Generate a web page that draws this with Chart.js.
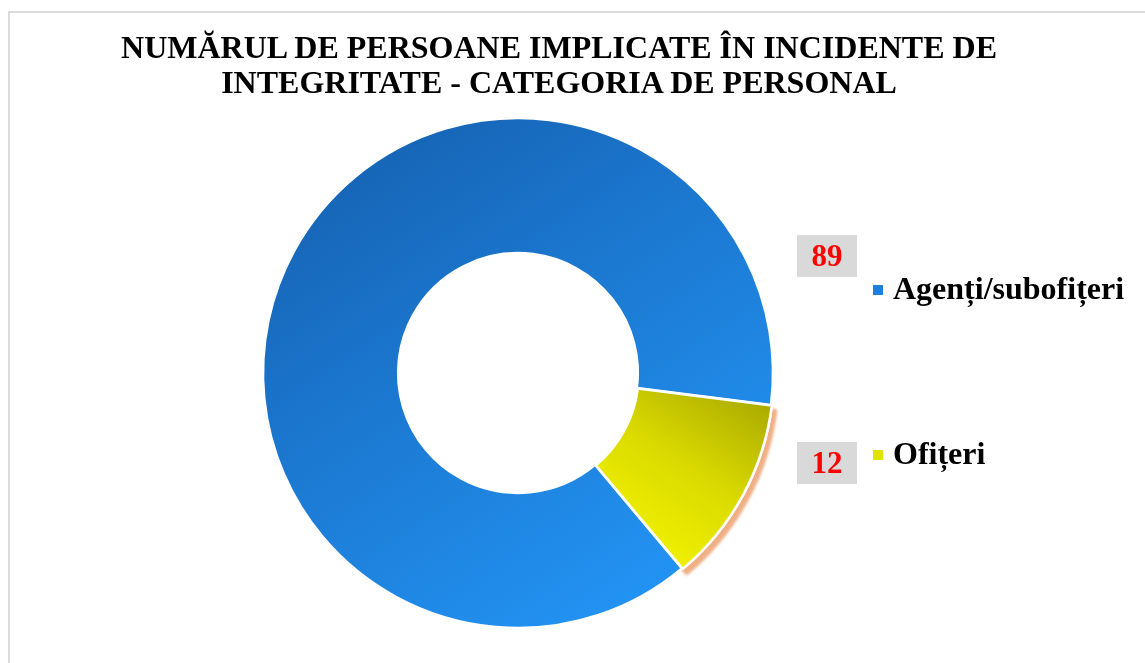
<!DOCTYPE html>
<html>
<head>
<meta charset="utf-8">
<script src="https://cdn.jsdelivr.net/npm/chart.js@4.4.1/dist/chart.umd.min.js"></script>
<style>
  html, body { margin: 0; padding: 0; background: #fff; overflow: hidden; }
  #frame {
    position: absolute; left: 8px; top: 11px; width: 1160px; height: 680px;
    border: 2px solid #dcdcdc; box-sizing: border-box;
  }
  #title {
    position: absolute; left: 0; top: 30px; width: 1118px; text-align: center;
    font: bold 32px "Liberation Serif", "Times New Roman", serif; line-height: 35px; color: #000;
  }
  #wrap { position: absolute; left: 0; top: 0; width: 1145px; height: 663px; }
</style>
</head>
<body>
<div id="frame"></div>
<div id="wrap"><canvas id="donutChart"></canvas></div>
<div id="title">NUMĂRUL DE PERSOANE IMPLICATE ÎN INCIDENTE DE<br>INTEGRITATE - CATEGORIA DE PERSONAL</div>
<script>
// =========================
// Data
// =========================
const categories = ["Agenți/subofițeri", "Ofițeri"];
const persons = [89, 12];
const legendSwatches = ["#1f7fdb", "#e2e200"];

// gradient fill per slice, built from the chart area
function sliceFill(context) {
  const chart = context.chart;
  const area = chart.chartArea;
  if (!area) return legendSwatches[context.dataIndex];
  const cx = (area.left + area.right) / 2;
  const cy = (area.top + area.bottom) / 2;
  const r = Math.min(area.width, area.height) / 2;
  const ctx = chart.ctx;
  let g;
  if (context.dataIndex === 0) {
    g = ctx.createLinearGradient(cx - r * 0.8, cy - r, cx + r * 0.5, cy + r);
    g.addColorStop(0, "#1560b0");
    g.addColorStop(1, "#2395f6");
  } else {
    g = ctx.createLinearGradient(cx + r, cy + r * 0.05, cx + r * 0.5, cy + r * 0.8);
    g.addColorStop(0, "#a2a200");
    g.addColorStop(0.5, "#dada00");
    g.addColorStop(1, "#f6f600");
  }
  return g;
}

// =========================
// Shadow under the small slice
// =========================
const sliceShadow = {
  id: "sliceShadow",
  beforeDatasetsDraw(chart) {
    const arc = chart.getDatasetMeta(0).data[1];
    if (!arc) return;
    const ctx = chart.ctx;
    ctx.save();
    ctx.shadowColor = "rgba(236, 160, 110, 0.85)";
    ctx.shadowBlur = 3;
    ctx.shadowOffsetX = 4;
    ctx.shadowOffsetY = 5;
    arc.draw(ctx);
    ctx.restore();
  },
};

// =========================
// Side legend + value boxes
// =========================
const sideLabels = {
  id: "sideLabels",
  afterDraw(chart) {
    const ctx = chart.ctx;
    const arc = chart.getDatasetMeta(0).data[0];
    const cx = arc.x, cy = arc.y, r = arc.outerRadius;
    const rowY = [cy - 83, cy + 82];
    const valueY = [cy - 117, cy + 90];
    ctx.save();
    categories.forEach((name, i) => {
      // swatch
      ctx.fillStyle = legendSwatches[i];
      ctx.fillRect(cx + r + 100, rowY[i] - 5, 10, 10);
      // label
      ctx.fillStyle = "#000";
      ctx.font = "bold 32px 'Liberation Serif', serif";
      ctx.textAlign = "left";
      ctx.textBaseline = "middle";
      ctx.fillText(name, cx + r + 120, rowY[i] + 1);
      // value box
      ctx.fillStyle = "#d9d9d9";
      ctx.fillRect(cx + r + 24, valueY[i] - 21, 60, 42);
      ctx.fillStyle = "#ff0000";
      ctx.font = "bold 31px 'Liberation Serif', serif";
      ctx.textAlign = "center";
      ctx.fillText(String(persons[i]), cx + r + 54, valueY[i] + 2);
    });
    ctx.restore();
  },
};

document.addEventListener("DOMContentLoaded", () => {
  const el = document.getElementById("donutChart");
  new Chart(el, {
    type: "doughnut",
    data: {
      labels: categories,
      datasets: [
        {
          data: persons,
          backgroundColor: sliceFill,
          borderColor: "#ffffff",
          borderWidth: 2.5,
          offset: [0, 3],
          hoverOffset: 0,
        },
      ],
    },
    options: {
      responsive: true,
      maintainAspectRatio: false,
      animation: false,
      rotation: 140,
      radius: 255,
      cutout: "47%",
      layout: { padding: { top: 118, bottom: 35, left: 263, right: 372 } },
      plugins: {
        legend: { display: false },
        title: { display: false },
        tooltip: { enabled: false },
      },
    },
    plugins: [sliceShadow, sideLabels],
  });
});
</script>
</body>
</html>
